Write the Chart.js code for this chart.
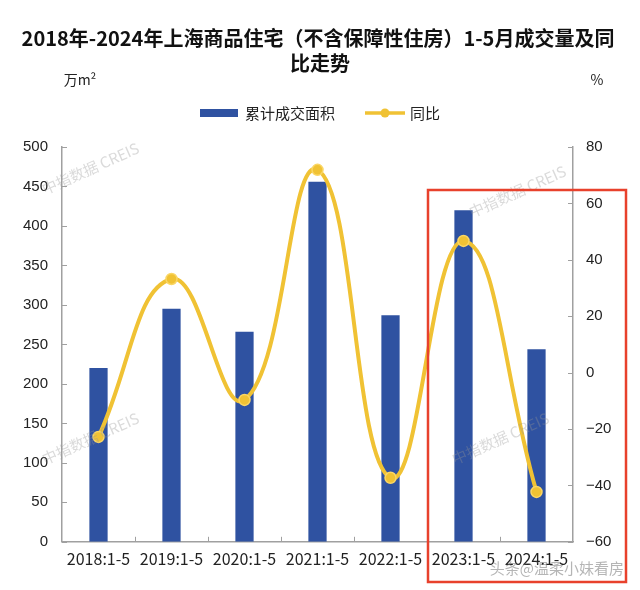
<!DOCTYPE html>
<html>
<head>
<meta charset="utf-8">
<script src="https://cdn.jsdelivr.net/npm/chart.js@4"></script>
<style>
  body { margin: 0; background: #fff; }
  canvas { display: block; }
</style>
</head>
<body>
<canvas id="grafico" width="640" height="590"></canvas>
<script>
const categorias = ['2018:1-5', '2019:1-5', '2020:1-5', '2021:1-5', '2022:1-5', '2023:1-5', '2024:1-5'];
const areaAcumulada = [220, 295, 266, 456, 287, 420, 244];
const tongbi = [-22.8, 33.2, -9.7, 71.9, -37.3, 46.7, -42.3];
const ticksEsq = [0, 50, 100, 150, 200, 250, 300, 350, 400, 450, 500];
const ticksDir = [-60, -40, -20, 0, 20, 40, 60, 80];

const azul = 'rgb(47,82,161)';
const amarelo = 'rgb(240,194,52)';
const cjk = '"Noto Sans CJK SC", sans-serif';

// title, units, legend, small inside ticks, red box and watermarks
const extras = {
  id: 'extras',
  afterDraw(chart) {
    const ctx = chart.ctx;
    const a = chart.chartArea;
    const x = chart.scales.x, y = chart.scales.y, y1 = chart.scales.y1;
    ctx.save();

    // tick marks pointing inward
    ctx.strokeStyle = '#a0a0a0';
    ctx.lineWidth = 1;
    ctx.beginPath();
    ticksEsq.forEach(v => { const p = Math.round(y.getPixelForValue(v)) + 0.5; ctx.moveTo(a.left, p); ctx.lineTo(a.left + 5, p); });
    ticksDir.forEach(v => { const p = Math.round(y1.getPixelForValue(v)) + 0.5; ctx.moveTo(a.right, p); ctx.lineTo(a.right - 5, p); });
    for (let i = 1; i < categorias.length; i++) {
      const p = Math.round((x.getPixelForValue(i - 1) + x.getPixelForValue(i)) / 2) + 0.5;
      ctx.moveTo(p, a.bottom); ctx.lineTo(p, a.bottom - 5);
    }
    ctx.stroke();

    // watermarks
    ctx.fillStyle = 'rgba(150,150,150,0.35)';
    ctx.font = '15px ' + cjk;
    [[45, 195], [45, 465], [472, 218], [455, 465]].forEach(([wx, wy]) => {
      ctx.save();
      ctx.translate(wx, wy);
      ctx.rotate(-0.42);
      ctx.fillText('中指数据 CREIS', 0, 0);
      ctx.restore();
    });

    // title
    ctx.fillStyle = '#111';
    ctx.textAlign = 'center';
    ctx.textBaseline = 'middle';
    ctx.font = 'bold 20px ' + cjk;
    ctx.fillText('2018年-2024年上海商品住宅（不含保障性住房）1-5月成交量及同', 318, 38);
    ctx.fillText('比走势', 320, 63);

    // units
    ctx.font = '14px ' + cjk;
    ctx.fillStyle = '#222';
    ctx.fillText('万m²', 80, 80);
    ctx.fillText('%', 597, 80);

    // legend
    ctx.fillStyle = azul;
    ctx.fillRect(200, 109, 38, 8);
    ctx.fillStyle = '#222';
    ctx.textAlign = 'left';
    ctx.font = '15px ' + cjk;
    ctx.fillText('累计成交面积', 245, 113);
    ctx.strokeStyle = amarelo;
    ctx.lineWidth = 3.5;
    ctx.beginPath(); ctx.moveTo(365, 113); ctx.lineTo(405, 113); ctx.stroke();
    ctx.fillStyle = amarelo;
    ctx.beginPath(); ctx.arc(385, 113, 4.5, 0, Math.PI * 2); ctx.fill();
    ctx.fillStyle = '#222';
    ctx.fillText('同比', 410, 113);

    // red box
    ctx.strokeStyle = 'rgb(232,65,44)';
    ctx.lineWidth = 2.5;
    ctx.strokeRect(428, 190, 198, 392);

    // bottom-right watermark
    ctx.fillStyle = 'rgba(120,120,120,0.55)';
    ctx.font = '15px ' + cjk;
    ctx.textAlign = 'right';
    ctx.fillText('头条@温柔小妹看房', 624, 568);
    ctx.restore();
  }
};

new Chart(document.getElementById('grafico'), {
  data: {
    labels: categorias,
    datasets: [
      {
        type: 'line',
        label: '同比',
        data: tongbi,
        yAxisID: 'y1',
        borderColor: amarelo,
        backgroundColor: amarelo,
        borderWidth: 4,
        tension: 0.45,
        pointRadius: 5.5,
        pointBorderColor: 'rgb(250,214,100)',
        pointBackgroundColor: amarelo,
        pointBorderWidth: 1.5,
        order: 0
      },
      {
        type: 'bar',
        label: '累计成交面积',
        data: areaAcumulada,
        yAxisID: 'y',
        backgroundColor: azul,
        barPercentage: 0.5,
        categoryPercentage: 0.5,
        order: 1
      }
    ]
  },
  plugins: [extras],
  options: {
    responsive: false,
    animation: false,
    layout: { padding: { top: 147, left: 22, right: 27, bottom: 13 } },
    plugins: {
      legend: { display: false },
      title: { display: false },
      tooltip: { enabled: false }
    },
    scales: {
      x: {
        grid: { display: false, drawTicks: false },
        border: { color: '#a0a0a0', width: 1.5 },
        ticks: { color: '#222', font: { size: 16, family: cjk }, padding: 8, maxRotation: 0, autoSkip: false }
      },
      y: {
        position: 'left',
        min: 0,
        max: 500,
        afterBuildTicks: s => { s.ticks = ticksEsq.map(v => ({ value: v })); },
        afterFit: s => { s.width = 40; },
        grid: { display: false, drawTicks: false },
        border: { color: '#a0a0a0', width: 1.5 },
        ticks: { color: '#222', font: { size: 15, family: '"Liberation Sans", Arial, sans-serif' }, padding: 14 }
      },
      y1: {
        position: 'right',
        min: -60,
        max: 80,
        afterBuildTicks: s => { s.ticks = ticksDir.map(v => ({ value: v })); },
        afterFit: s => { s.width = 40; },
        grid: { display: false, drawTicks: false },
        border: { color: '#a0a0a0', width: 1.5 },
        ticks: { color: '#222', font: { size: 15, family: '"Liberation Sans", Arial, sans-serif' }, padding: 13,
                 callback: v => String(v).replace('-', '−') }
      }
    }
  }
});
</script>
</body>
</html>
